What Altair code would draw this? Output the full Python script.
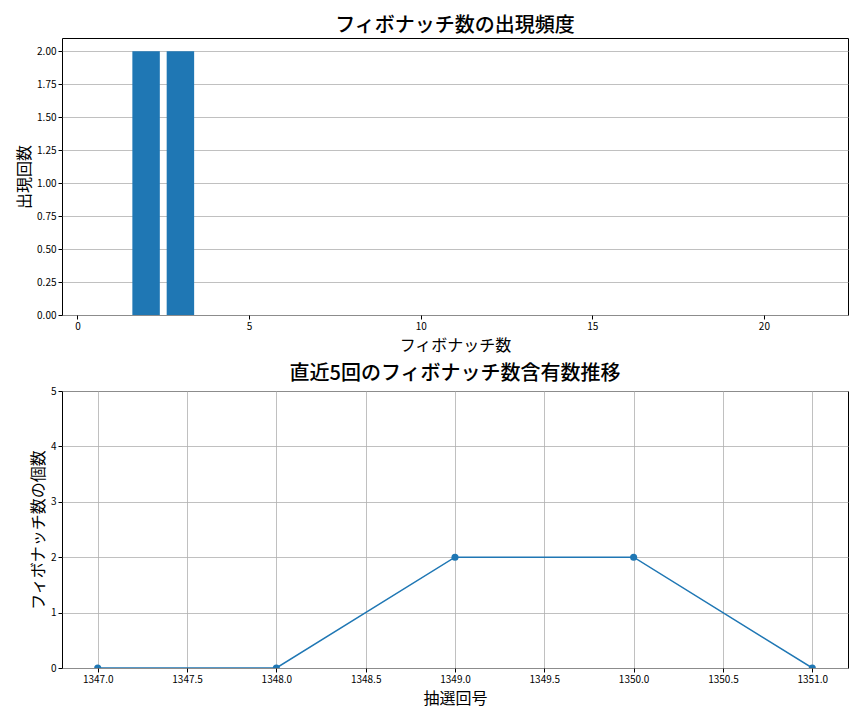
import altair as alt
import pandas as pd

# Top chart data
fib_numbers = [2, 3]
fib_counts = [2, 2]
top_x_ticks = [0, 5, 10, 15, 20]
top_y_ticks = [0, 0.25, 0.5, 0.75, 1.0, 1.25, 1.5, 1.75, 2.0]

# Bottom chart data
draw_numbers = [1347, 1348, 1349, 1350, 1351]
fib_per_draw = [0, 0, 2, 2, 0]
bottom_x_ticks = [1347.0, 1347.5, 1348.0, 1348.5, 1349.0, 1349.5, 1350.0, 1350.5, 1351.0]
bottom_y_ticks = [0, 1, 2, 3, 4, 5]

FONT = "Noto Sans CJK JP"
BLUE = "#1f77b4"
W, H = 786, 277

top_df = pd.DataFrame({"n": fib_numbers, "c": fib_counts})
bot_df = pd.DataFrame({"d": draw_numbers, "v": fib_per_draw})

axis_common = dict(
    labelFont=FONT, labelFontSize=10, labelColor="#000", labelPadding=2,
    titleFont=FONT, titleFontSize=16, titleFontWeight="normal", titleColor="#000",
    tickColor="#000", tickSize=4, domain=False,
    gridColor="#b0b0b0", gridWidth=0.8,
)

top = alt.Chart(top_df).transform_calculate(
    x0="datum.n - 0.4", x1="datum.n + 0.4"
).mark_bar(color=BLUE).encode(
    x=alt.X("x0:Q", scale=alt.Scale(domain=[-0.45, 22.45], nice=False, zero=False),
            axis=alt.Axis(values=top_x_ticks, format="d", grid=False, title="フィボナッチ数",
                          titlePadding=6, **axis_common)),
    x2="x1:Q",
    y=alt.Y("c:Q", scale=alt.Scale(domain=[0, 2.1], nice=False),
            axis=alt.Axis(values=top_y_ticks, format=".2f", grid=True, title="出現回数",
                          titlePadding=4, **axis_common)),
    y2=alt.datum(0),
).properties(
    width=W, height=H,
    title=alt.TitleParams("フィボナッチ数の出現頻度", font=FONT, fontSize=20,
                          fontWeight=500, color="#000", offset=2),
)

bx = alt.X("d:Q", scale=alt.Scale(domain=[1346.8, 1351.2], nice=False, zero=False),
           axis=alt.Axis(values=bottom_x_ticks, format=".1f", grid=True, title="抽選回号",
                         titlePadding=6, **axis_common))
by = alt.Y("v:Q", scale=alt.Scale(domain=[0, 5], nice=False),
           axis=alt.Axis(values=bottom_y_ticks, format="d", grid=True, title="フィボナッチ数の個数",
                         titlePadding=4, **axis_common))

bottom = alt.Chart(bot_df).mark_line(
    color=BLUE, strokeWidth=1.5,
    point=alt.OverlayMarkDef(color=BLUE, size=50, filled=True, opacity=1),
    clip=True,
).encode(x=bx, y=by).properties(
    width=W, height=H,
    title=alt.TitleParams("直近5回のフィボナッチ数含有数推移", font=FONT, fontSize=20,
                          fontWeight=500, color="#000", offset=2),
)

chart = alt.vconcat(top, bottom, spacing=9).properties(
    padding={"left": 8, "top": 7, "right": 5, "bottom": 5},
    background="white",
).configure_view(
    stroke="#000", strokeWidth=1
)

chart.save("out.html", embed_options={"renderer": "svg", "actions": False})
